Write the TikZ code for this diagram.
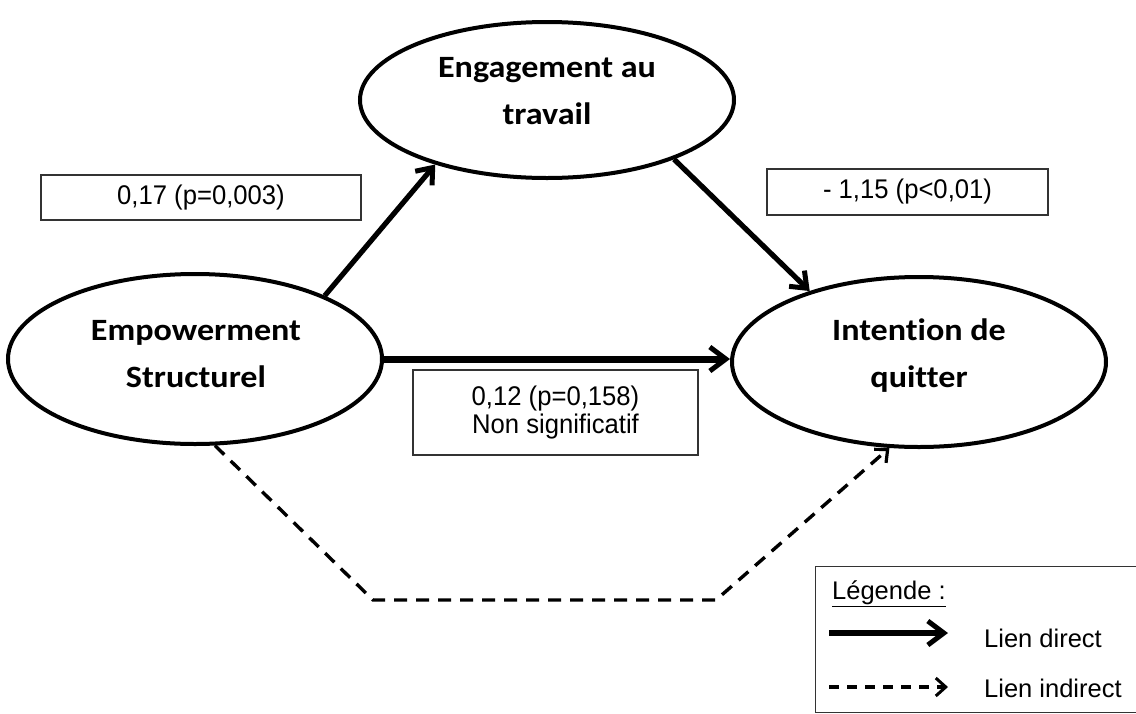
\documentclass[tikz,border=0pt]{standalone}
\usepackage{fontspec}
\setmainfont{Liberation Sans}
\newfontfamily\labfont{Liberation Sans}[FakeStretch=0.95]
\newfontfamily\calib{Carlito}[FakeStretch=1.1,Ligatures=NoCommon]
\usetikzlibrary{arrows.meta,shapes.geometric,calc}
\begin{document}
\begin{tikzpicture}[x=1pt,y=-1pt,
  ell/.style={ellipse,draw,line width=4pt,inner sep=0pt},
  elltext/.style={inner sep=0pt,align=center,
    font=\calib\bfseries\fontsize{31}{47}\selectfont},
  lab/.style={draw=black!80,line width=1.4pt,inner sep=0pt,align=center,
    font=\labfont\fontsize{27}{28.5}\selectfont},
  solidarr/.style={line width=5.2pt,-{Straight Barb[length=14pt,width=22pt,line width=5pt]}},
  dasharr/.style={line width=3.4pt,dash pattern=on 13pt off 9pt,-{Straight Barb[length=10pt,width=18pt,line width=3.2pt]}},
  legtext/.style={anchor=base west,inner sep=0pt,font=\fontsize{25.5}{28}\selectfont}]
\useasboundingbox (0,0) rectangle (1136,713);
\fill[white] (0,0) rectangle (1136,713);

\node[ell,minimum width=374pt,minimum height=156pt] (eng) at (547,100) {};
\node[ell,minimum width=374pt,minimum height=170pt] (emp) at (195,359) {};
\node[ell,minimum width=374pt,minimum height=170pt] (int) at (919,362) {};
\node[elltext] (engt) at (547,91.5) {Engagement au\\travail};
\node[elltext] (empt) at (196,354) {Empowerment\\Structurel};
\node[elltext] (intt) at (919,355.6) {Intention de\\quitter};

\node[lab,minimum width=320pt,minimum height=45pt] (l1) at (201,197.5) {0,17 (p=0,003)};
\node[lab,minimum width=281pt,minimum height=46pt] (l2) at (907.5,192) {- 1,15 (p<0,01)};
\node[lab,minimum width=285pt,minimum height=85pt] (l3) at (555.5,412.5) {0,12 (p=0,158)\\Non significatif};

\draw[solidarr] (emp.26.7) -- (eng.210.8);
\draw[solidarr] (eng.-25.5) -- (int.147.4);
\draw[line width=7pt,-{Straight Barb[length=16pt,width=24pt,line width=5pt]}] (emp.east) -- (emp.east -| int.west);

\coordinate (c1) at (373,600);
\coordinate (c2) at (716,600);
\draw[dasharr] (emp.-77.3) -- (c1) -- (c2) -- (int.251);

% legend
\node[draw=black!80,line width=1.4pt,minimum width=322pt,minimum height=146pt,inner sep=0pt] (leg) at (976.5,639.5) {};
\node[legtext] (lt) at (832,599) {\underline{Légende :}};
\coordinate (s1) at (829,633);
\coordinate (s2) at (948,633);
\coordinate (d1) at (829,687);
\coordinate (d2) at (948,687);
\draw[line width=5.5pt,-{Straight Barb[length=16pt,width=24pt,line width=5pt]}] (s1) -- (s2);
\draw[line width=3.2pt,dash pattern=on 10pt off 8pt,-{Straight Barb[length=10pt,width=18pt,line width=3pt]}] (d1) -- (d2);
\node[legtext] (ld) at (984,647) {Lien direct};
\node[legtext] (li) at (984,697) {Lien indirect};
\end{tikzpicture}
\end{document}
